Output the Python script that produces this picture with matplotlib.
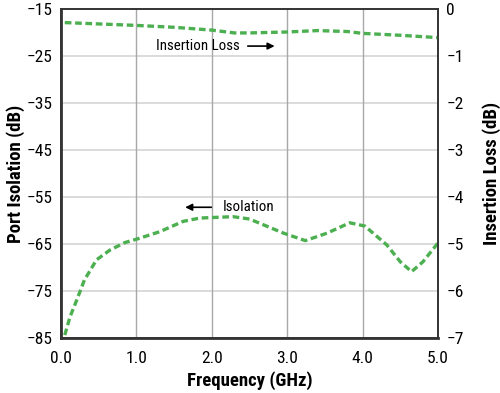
import matplotlib.pyplot as plt
from matplotlib import font_manager

# pick a narrow font if one is installed
names = {f.name for f in font_manager.fontManager.ttflist}
narrow = [n for n in ['Liberation Sans Narrow', 'Roboto Condensed', 'Open Sans Condensed',
                      'DejaVu Sans Condensed'] if n in names]
fam = narrow[0] if narrow else 'DejaVu Sans'
plt.rcParams['font.family'] = [fam, 'DejaVu Sans']
plt.rcParams['font.stretch'] = 'condensed'

# Isolation (left axis, dB)
iso_freq = [0.05, 0.12, 0.21, 0.31, 0.47, 0.65, 0.85, 1.0, 1.31, 1.62, 1.84, 2.28,
            2.5, 2.95, 3.24, 3.53, 3.83, 4.03, 4.32, 4.5, 4.65, 4.8, 5.0]
iso_db = [-84.3, -80.4, -76.8, -72.6, -68.3, -66.2, -64.6, -63.9, -62.3, -60.1, -59.4, -59.1,
          -59.6, -62.6, -64.2, -62.6, -60.4, -61.1, -65.1, -68.7, -70.8, -68.7, -64.7]

# Insertion loss (right axis, dB)
il_freq = [0.05, 1.0, 1.5, 2.0, 2.3, 2.5, 3.0, 3.4, 3.8, 4.0, 4.5, 5.0]
il_db = [-0.28, -0.34, -0.38, -0.44, -0.50, -0.50, -0.48, -0.45, -0.47, -0.51, -0.55, -0.60]

green = '#4caf50'
tick_fs = 12.5 if narrow else 9.5
lab_fs = 13.5 if narrow else 10.5
ann_fs = 10.8 if narrow else 9

fig = plt.figure(figsize=(5, 3.93), dpi=100)
ax = fig.add_axes([0.122, 0.139, 0.754, 0.837])
ax2 = ax.twinx()

ax.plot(iso_freq, iso_db, color=green, lw=2.4, ls=(0, (2, 1.1)))
ax2.plot(il_freq, il_db, color=green, lw=2.4, ls=(0, (2, 1.1)))

ax.set_xlim(0, 5)
ax.set_ylim(-85, -15)
ax2.set_ylim(-7, 0)
ax.set_xticks([0, 1, 2, 3, 4, 5])
ax.set_xticklabels(['0.0', '1.0', '2.0', '3.0', '4.0', '5.0'])
ax.set_yticks(range(-85, -14, 10))
ax2.set_yticks(range(-7, 1))

# grid: light horizontal, darker vertical
for y in range(-75, -15, 10):
    ax.axhline(y, color='#d4d4d4', lw=1.2, zorder=0)
for x in [1, 2, 3, 4]:
    ax.axvline(x, color='#a8a8a8', lw=1.0, zorder=0)

for a in (ax, ax2):
    a.tick_params(length=0, labelsize=tick_fs, pad=6)
    for s in a.spines.values():
        s.set_color('#333333')
        s.set_linewidth(1.2)
ax.tick_params(axis='x', pad=9)
ax.spines['left'].set_linewidth(2)
ax.spines['bottom'].set_linewidth(2)

ax.set_xlabel('Frequency (GHz)', fontsize=lab_fs, fontweight='bold', labelpad=4)
ax.set_ylabel('Port Isolation (dB)', fontsize=lab_fs, fontweight='bold', labelpad=1)
ax2.set_ylabel('Insertion Loss (dB)', fontsize=lab_fs, fontweight='bold', labelpad=13)

# annotations
ax.text(2.37, -22.8, 'Insertion Loss', fontsize=ann_fs, va='center', ha='right')
ax.annotate('', xy=(2.87, -22.8), xytext=(2.44, -22.8),
            arrowprops=dict(arrowstyle='-|>', color='black', lw=1.2, mutation_scale=10))
ax.text(2.14, -57.1, 'Isolation', fontsize=ann_fs, va='center', ha='left')
ax.annotate('', xy=(1.61, -57.1), xytext=(2.03, -57.1),
            arrowprops=dict(arrowstyle='-|>', color='black', lw=1.2, mutation_scale=10))

fig.savefig('out.png', dpi=100)
